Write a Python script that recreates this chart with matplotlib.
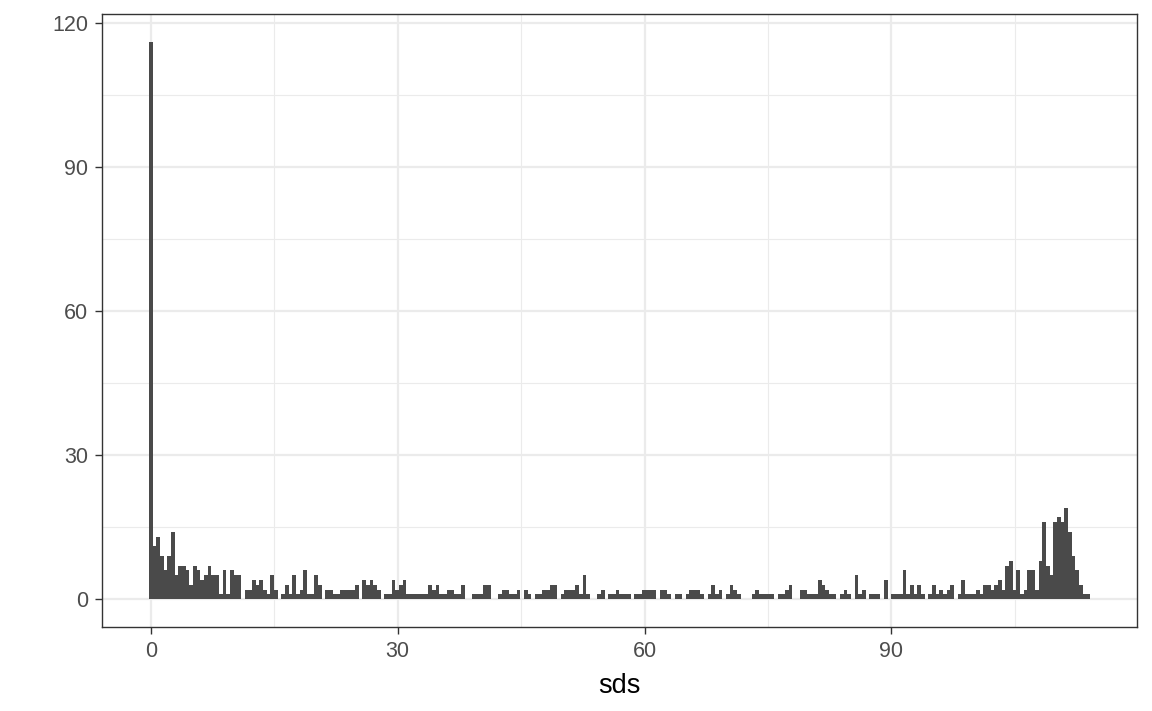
import matplotlib
matplotlib.use("Agg")
import matplotlib.pyplot as plt
import numpy as np

plt.rcParams['font.family'] = ['Liberation Sans', 'DejaVu Sans']

# histogram of sds: counts per bin, first bin centred at 0, last at sds_max
sds_max = 113.9
counts = [
    116, 11, 13, 9, 6, 9, 14, 5, 7, 7,
    6, 3, 7, 6, 4, 5, 7, 5, 5, 1,
    6, 1, 6, 5, 5, 0, 2, 2, 4, 3,
    4, 2, 1, 5, 2, 0, 1, 3, 1, 5,
    1, 2, 6, 1, 1, 5, 3, 0, 2, 2,
    1, 1, 2, 2, 2, 2, 3, 0, 4, 3,
    4, 3, 2, 0, 1, 1, 4, 2, 3, 4,
    1, 1, 1, 1, 1, 1, 3, 2, 3, 1,
    1, 2, 2, 1, 1, 3, 0, 0, 1, 1,
    1, 3, 3, 0, 0, 1, 2, 2, 1, 1,
    2, 0, 2, 1, 0, 1, 1, 2, 2, 3,
    3, 0, 1, 2, 2, 2, 3, 1, 5, 1,
    0, 0, 1, 2, 0, 1, 1, 2, 1, 1,
    1, 0, 1, 1, 2, 2, 2, 2, 0, 2,
    2, 1, 0, 1, 1, 0, 1, 2, 2, 2,
    1, 0, 1, 3, 1, 2, 0, 1, 3, 2,
    1, 0, 0, 0, 1, 2, 1, 1, 1, 1,
    0, 1, 1, 2, 3, 0, 0, 2, 2, 1,
    1, 1, 4, 3, 2, 1, 1, 0, 1, 2,
    1, 0, 5, 1, 2, 0, 1, 1, 1, 0,
    4, 0, 1, 1, 1, 6, 1, 3, 1, 3,
    1, 0, 1, 3, 1, 2, 1, 2, 3, 0,
    1, 4, 1, 1, 1, 2, 1, 3, 3, 2,
    3, 4, 2, 7, 8, 2, 6, 1, 2, 6,
    6, 2, 8, 16, 7, 5, 16, 17, 16, 19,
    14, 9, 6, 3, 1, 1,
]
x_ticks = [0, 30, 60, 90]
y_ticks = [0, 30, 60, 90, 120]
x_label = "sds"

n = len(counts)
binwidth = sds_max / (n - 1)
centers = np.arange(n) * binwidth

fig = plt.figure(figsize=(11.52, 7.11), dpi=100)
ax = fig.add_axes([0.0885, 0.1181, 0.8985, 0.8622])

ax.bar(centers, counts, width=binwidth, color='#4a4a4a', linewidth=0, zorder=3)

# ggplot-like expansion
lo = -binwidth / 2
hi = sds_max + binwidth / 2
pad = (hi - lo) * 0.05
ax.set_xlim(lo - pad, hi + pad)
ymax = max(counts)
ax.set_ylim(-ymax * 0.05, ymax * 1.05)

ax.set_xticks(x_ticks)
ax.set_yticks(y_ticks)
ax.set_xticks([15, 45, 75, 105], minor=True)
ax.set_yticks([15, 45, 75, 105], minor=True)
ax.grid(which='major', color='#ebebeb', linewidth=1.6, zorder=0)
ax.grid(which='minor', color='#ebebeb', linewidth=0.8, zorder=0)
ax.set_axisbelow(True)

ax.tick_params(which='major', length=5, width=1.0, color='#333333',
               labelsize=15.5, labelcolor='#4d4d4d', pad=5)
ax.tick_params(which='minor', length=0)
for s in ax.spines.values():
    s.set_color('#333333')
    s.set_linewidth(1.0)

ax.set_xlabel(x_label, fontsize=19.5, color='black', labelpad=8)

fig.savefig('out.png', dpi=100)
